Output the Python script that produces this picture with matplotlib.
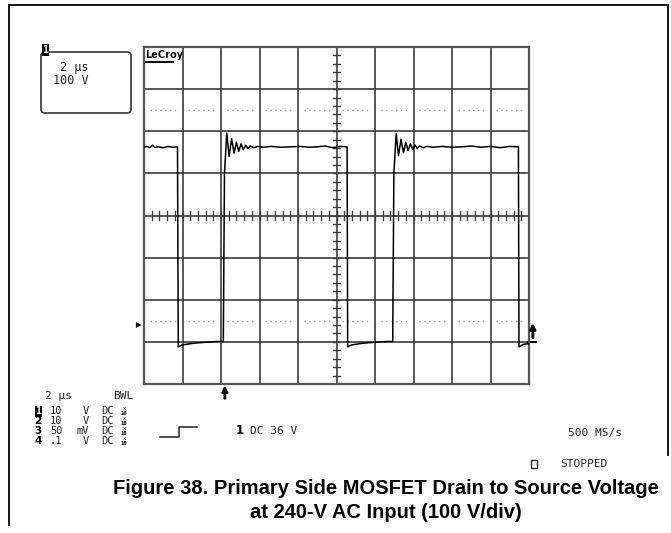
import matplotlib.pyplot as plt
from matplotlib.patches import FancyBboxPatch, Rectangle, Polygon

W, H = 671, 533

# Drain-source trace: time in us (2 us/div), voltage in V (100 V/div)
t_us = [0.00, 0.15, 0.30, 0.45, 0.55, 0.75, 1.00, 1.25, 1.50, 1.74,
        1.78, 1.85, 2.00, 2.30, 2.60, 2.90, 3.20, 3.50, 3.80, 4.12,
        4.18, 4.30, 4.42, 4.55, 4.68, 4.80, 4.92, 5.04, 5.16, 5.28, 5.40, 5.52, 5.70, 5.90,
        6.20, 6.60, 7.10, 7.60, 8.10, 8.60, 9.00, 9.40, 9.80, 10.20, 10.55,
        10.58, 10.65, 10.80, 11.10, 11.40, 11.70, 12.00, 12.30, 12.60, 12.92,
        12.98, 13.10, 13.22, 13.35, 13.48, 13.60, 13.72, 13.84, 13.96, 14.08, 14.20, 14.32, 14.50, 14.70,
        15.00, 15.50, 16.00, 16.50, 17.00, 17.50, 18.00, 18.50, 19.00, 19.45,
        19.48, 19.55, 19.70, 20.00]
v_drain = [462, 464, 461, 467, 462, 463, 461, 464, 462, 463,
           -12, -10, -7, -5, -3, -2, -1, 0, 1, 1,
           400, 496, 440, 482, 448, 474, 452, 470, 456, 467, 459, 465, 461, 464,
           462, 464, 462, 463, 464, 462, 463, 465, 461, 464, 463,
           -12, -10, -7, -5, -3, -2, -1, 0, 1, 1,
           400, 494, 442, 481, 449, 474, 454, 470, 457, 467, 459, 465, 461, 464,
           462, 464, 462, 463, 465, 462, 464, 461, 464, 463,
           -12, -10, -6, -4]

t_lim = (0, 20)
v_lim = (-100, 700)
ground_level = 40
dotted_levels = [50, 550]

ch_labels = ['1', '2', '3', '4']
ch_volts = ['10', '10', '50', '.1']
ch_units = ['V', 'V', 'mV', 'V']

mono = 'DejaVu Sans Mono'
grid_col = '#3c3c3c'
txt_col = '#222222'

fig = plt.figure(figsize=(W / 100, H / 100), dpi=100)

# pixel-space overlay for the screen text and the page frame
ov = fig.add_axes([0, 0, 1, 1])
ov.set_xlim(0, W)
ov.set_ylim(H, 0)
ov.axis('off')

ov.plot([9, 668], [5, 5], color='black', lw=1.3)
ov.plot([9, 9], [5, 525], color='black', lw=1.3)
ov.plot([668, 668], [5, 455], color='black', lw=1.3)

# timebase / scale box
ov.add_patch(FancyBboxPatch((41, 52), 90, 61, boxstyle='round,pad=0,rounding_size=4',
                            fc='white', ec='#333333', lw=1.2))
ov.add_patch(Rectangle((42, 44), 7, 12, fc='black', ec='none'))
ov.text(45.5, 50, '1', color='white', fontsize=7, fontweight='bold', family=mono,
        ha='center', va='center')
ov.text(60, 67, '2 μs', fontsize=8.5, family=mono, va='center', color=txt_col)
ov.text(53, 80, '100 V', fontsize=8.5, family=mono, va='center', color=txt_col)

# channel settings
ov.text(45, 396, '2 μs', fontsize=8, family=mono, va='center', color=txt_col)
ov.text(113, 396, 'BWL', fontsize=8, family=mono, va='center', color=txt_col)
for i, (lab, val, unit) in enumerate(zip(ch_labels, ch_volts, ch_units)):
    y = 411 + 10 * i
    if i == 0:
        ov.add_patch(Rectangle((34.5, y - 5.5), 7, 11, fc='black', ec='none'))
        ov.text(38, y, lab, color='white', fontsize=7, fontweight='bold', family=mono,
                ha='center', va='center')
    else:
        ov.text(38, y, lab, fontsize=7.5, fontweight='bold', family='DejaVu Sans',
                ha='center', va='center')
    ov.text(50, y, val, fontsize=7.5, family=mono, va='center', color=txt_col)
    ov.text(89, y, unit, fontsize=7.5, family=mono, va='center', ha='right', color=txt_col)
    ov.text(101, y, 'DC', fontsize=7.5, family=mono, va='center', color=txt_col)
    ov.text(124, y - 2.3, 'x', fontsize=4, family=mono, va='center', ha='center')
    ov.text(124, y + 2.3, '10', fontsize=4, family=mono, va='center', ha='center',
            fontweight='bold')

# trigger setup
ov.plot([160, 179, 179, 197], [437, 437, 427, 427], color=txt_col, lw=1.1)
ov.text(240, 431, '1', fontsize=8.5, fontweight='bold', family='DejaVu Sans',
        ha='center', va='center')
ov.text(250, 431, 'DC 36 V', fontsize=8, family=mono, va='center', color=txt_col)

ov.text(568, 433, '500 MS/s', fontsize=8, family=mono, va='center', color=txt_col)
ov.add_patch(Rectangle((531, 460), 6, 8, fc='white', ec=txt_col, lw=1))
ov.text(560, 464, 'STOPPED', fontsize=8, family=mono, va='center', color=txt_col)

# caption
cap = dict(fontsize=14.5, fontweight='bold', family='Liberation Sans', ha='center', va='center')
ov.text(386, 488, 'Figure 38. Primary Side MOSFET Drain to Source Voltage', **cap)
ov.text(386, 512, 'at 240-V AC Input (100 V/div)', **cap)

# scope graticule
gl, gt, gw, gh = 144, 47, 385, 337
ax = fig.add_axes([gl / W, 1 - (gt + gh) / H, gw / W, gh / H])
ax.set_xlim(*t_lim)
ax.set_ylim(*v_lim)
ax.patch.set_alpha(0)
for s in ax.spines.values():
    s.set_color('#555555')
    s.set_linewidth(1.6)
ax.set_xticks([])
ax.set_yticks([])

dx = (t_lim[1] - t_lim[0]) / 10
dy = (v_lim[1] - v_lim[0]) / 8
for k in range(1, 10):
    ax.axvline(t_lim[0] + k * dx, color=grid_col, lw=1.2, zorder=1)
for k in range(1, 8):
    ax.axhline(v_lim[0] + k * dy, color=grid_col, lw=1.2, zorder=1)

# dotted reference lines inside every division
for lvl in dotted_levels:
    for k in range(10):
        x0 = t_lim[0] + k * dx
        ax.plot([x0 + 0.15 * dx, x0 + 0.85 * dx], [lvl, lvl], color='#9a9a9a',
                lw=1, ls=(0, (1, 2.5)), zorder=1)

# minor ticks on the centre cross
tc = (t_lim[0] + t_lim[1]) / 2
vc = (v_lim[0] + v_lim[1]) / 2
for k in range(1, 50):
    x = t_lim[0] + k * dx / 5
    ax.plot([x, x], [vc - 0.1 * dy, vc + 0.1 * dy], color=grid_col, lw=1, zorder=1)
for k in range(1, 40):
    y = v_lim[0] + k * dy / 5
    ax.plot([tc - 0.1 * dx, tc + 0.1 * dx], [y, y], color=grid_col, lw=1, zorder=1)

ax.plot(t_us, v_drain, color='black', lw=1.1, zorder=3)

# LeCroy tag
ax.text(0.05, v_lim[1] - 0.2 * dy, 'LeCroy', fontsize=7, fontweight='bold',
        family='DejaVu Sans', va='center', ha='left', zorder=4)
ax.plot([0.08, 1.5], [v_lim[1] - 0.36 * dy] * 2, color='black', lw=1.4, zorder=4)

# channel ground marker and trigger markers outside the graticule
ax.add_patch(Polygon([[-0.42, ground_level + 0.07 * dy], [-0.42, ground_level - 0.07 * dy],
                      [-0.12, ground_level]], closed=True, fc='black', ec='none',
                     clip_on=False))
arrow = dict(arrowstyle='-|>', color='black', lw=2, mutation_scale=8, shrinkA=0, shrinkB=0)
ax.annotate('', xy=(4.2, v_lim[0] - 0.03 * dy), xytext=(4.2, v_lim[0] - 0.34 * dy),
            arrowprops=arrow, annotation_clip=False)
ax.annotate('', xy=(20.2, ground_level + 0.05 * dy), xytext=(20.2, ground_level - 0.3 * dy),
            arrowprops=arrow, annotation_clip=False)
ax.plot([19.95, 20.35], [ground_level - 0.4 * dy] * 2, color='black', lw=1.5, clip_on=False)

fig.savefig('out.png', dpi=100)
